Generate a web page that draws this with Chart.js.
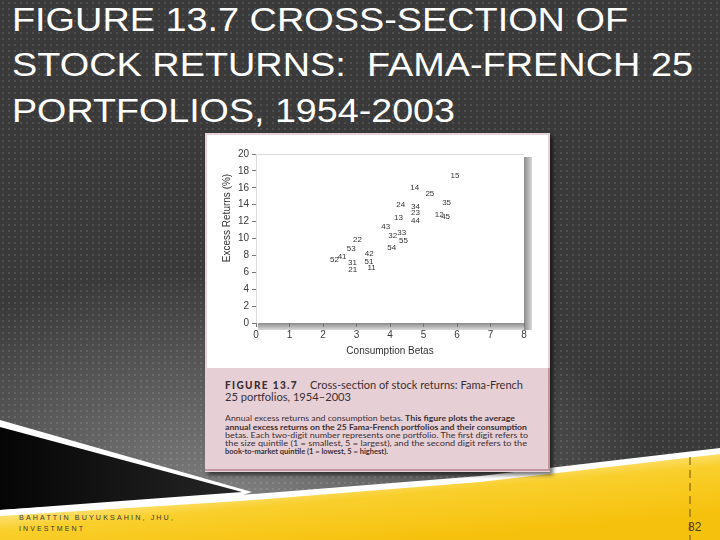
<!DOCTYPE html>
<html>
<head>
<meta charset="utf-8">
<script src="https://cdn.jsdelivr.net/npm/chart.js@4"></script>
<style>
body { margin: 0; background: #3a3a3a; }
#slide { position: relative; width: 720px; height: 540px; overflow: hidden; background: #3a3a3a; font-family: "Liberation Sans", Arial, sans-serif; }
#glow { position: absolute; left: 0; top: 0; width: 720px; height: 540px;
  background: radial-gradient(ellipse 430px 230px at 230px 500px, #808080, rgba(58,58,58,0)); }
#dots { position: absolute; left: 0; top: 0; width: 720px; height: 540px;
  background-image: radial-gradient(circle, rgba(255,255,255,0.11) 0.8px, transparent 1.3px);
  background-size: 6px 6px; }
.line { position: absolute; white-space: nowrap; transform-origin: 0 50%; }
.title { color: #fff; font-size: 34px; line-height: 34px; left: 12px; }
#box { position: absolute; left: 205px; top: 133px; width: 341px; height: 335px;
  background: #fff; border: 2px solid #e6d3d8; box-shadow: 3px 3px 4px rgba(0,0,0,0.55); }
#cap { position: absolute; left: 205px; top: 368px; width: 343px; height: 101px;
  background: #e7cfd6; border-right: 2px solid #c495a2; border-bottom: 2px solid #c495a2; }
.cap { color: #3b2f33; font-family: Lato, "Open Sans", sans-serif; }
.p { font-size: 8px; line-height: 8px; }
#chartWrap { position: absolute; left: 207px; top: 135px; width: 340px; height: 233px; }
.foot { color: #3a3a3a; font-size: 8px; line-height: 8px; letter-spacing: 2.4px; left: 19px; }
</style>
</head>
<body>
<div id="slide">
  <div id="glow"></div>
  <div id="dots"></div>
  <svg width="720" height="540" style="position:absolute;left:0;top:0">
    <defs>
      <linearGradient id="yel" gradientUnits="userSpaceOnUse" x1="360" y1="478" x2="366" y2="545">
        <stop offset="0" stop-color="#fde78a"/>
        <stop offset="0.3" stop-color="#f9cf2c"/>
        <stop offset="1" stop-color="#f6c10d"/>
      </linearGradient>
      <linearGradient id="blk" x1="0" y1="0" x2="1" y2="0">
        <stop offset="0" stop-color="#050505"/>
        <stop offset="1" stop-color="#262626"/>
      </linearGradient>
    </defs>
    <polygon points="0,420 252,492 240,496 0,512" fill="#fff"/>
    <polygon points="0,427 242,492 0,510" fill="url(#blk)"/>
    <polygon points="0,510 240,495 480,476 720,448 720,540 0,540" fill="#fff"/>
    <polygon points="0,516 240,501 480,482 720,454 720,540 0,540" fill="url(#yel)"/>
    <line x1="690" y1="457" x2="690" y2="540" stroke="#6b5514" stroke-width="1" stroke-dasharray="8,5"/>
  </svg>

  <div class="line title fit" data-w="616" style="top:2px">FIGURE 13.7 CROSS-SECTION OF</div>
  <div class="line title fit" data-w="681" style="top:47px">STOCK RETURNS:&nbsp; FAMA-FRENCH 25</div>
  <div class="line title fit" data-w="443" style="top:93px">PORTFOLIOS, 1954-2003</div>

  <div id="box"></div>
  <div id="cap"></div>
  <div id="chartWrap"><canvas id="chart" width="340" height="233"></canvas></div>

  <div class="line cap fit" data-w="73" style="left:225px;top:378px;font-size:12px;line-height:14px;font-weight:900;letter-spacing:1.6px">FIGURE 13.7</div>
  <div class="line cap fit" data-w="213" style="left:310px;top:378px;font-size:11px;line-height:14px">Cross-section of stock returns: Fama-French</div>
  <div class="line cap fit" data-w="126" style="left:225px;top:390px;font-size:11px;line-height:14px">25 portfolios, 1954–2003</div>

  <div class="line cap p fit" data-w="290" style="left:225px;top:414px">Annual excess returns and consumption betas. <b>This figure plots the average</b></div>
  <div class="line cap p fit" data-w="302" style="left:225px;top:423px"><b>annual excess returns on the 25 Fama-French portfolios and their consumption</b></div>
  <div class="line cap p fit" data-w="303" style="left:225px;top:431px">betas. Each two-digit number represents one portfolio. The first digit refers to</div>
  <div class="line cap p fit" data-w="302" style="left:225px;top:439px">the size quintile (1 = smallest, 5 = largest), and the second digit refers to the</div>
  <div class="line cap p fit" data-w="163" style="left:225px;top:447px"><b>book-to-market quintile (1 = lowest, 5 = highest).</b></div>

  <div class="line foot fit" data-w="156" style="top:514px">BAHATTIN BUYUKSAHIN, JHU,</div>
  <div class="line foot fit" data-w="66" style="top:525px">INVESTMENT</div>
  <div class="line" style="left:688px;top:520px;font-size:12px;line-height:14px;color:#4d3f10;font-family:'Liberation Sans Narrow','Liberation Sans',sans-serif">82</div>
</div>

<script>
// portfolio labels (size quintile, book-to-market quintile)
const portfolios = ['15', '14', '25', '35', '24', '34', '23', '44', '13', '12', '45', '43', '32',
                    '33', '55', '22', '54', '53', '42', '52', '41', '31', '51', '21', '11'];
// consumption betas
const betas = [5.94, 4.74, 5.19, 5.69, 4.32, 4.76, 4.76, 4.76, 4.25, 5.47, 5.66, 3.87, 4.08,
               4.35, 4.40, 3.03, 4.05, 2.84, 3.38, 2.34, 2.57, 2.88, 3.37, 2.89, 3.45];
// average annual excess returns (%)
const excessReturns = [17.47, 15.99, 15.26, 14.19, 13.98, 13.79, 13.0, 12.09, 12.45, 12.8, 12.57, 11.38, 10.32,
                       10.63, 9.68, 9.84, 8.85, 8.74, 8.14, 7.43, 7.87, 7.15, 7.27, 6.28, 6.48];
const xTicks = [0, 1, 2, 3, 4, 5, 6, 7, 8];
const yTicks = [0, 2, 4, 6, 8, 10, 12, 14, 16, 18, 20];

// fit text lines to the widths measured on the slide
document.querySelectorAll('.fit').forEach(el => {
    const w = el.getBoundingClientRect().width;
    el.style.transform = 'scaleX(' + (el.dataset.w / w) + ')';
});

const points = betas.map((b, i) => ({ x: b, y: excessReturns[i] }));

const framePlugin = {
    id: 'frame',
    beforeDraw(chart) {
        const ctx = chart.ctx, a = chart.chartArea;
        ctx.save();
        let g = ctx.createLinearGradient(a.right, 0, a.right + 8, 0);
        g.addColorStop(0, '#8a8a8a');
        g.addColorStop(1, '#dadada');
        ctx.fillStyle = g;
        ctx.fillRect(a.right, a.top + 3, 8, a.bottom - a.top + 4);
        g = ctx.createLinearGradient(0, a.bottom, 0, a.bottom + 7);
        g.addColorStop(0, '#8a8a8a');
        g.addColorStop(1, '#dadada');
        ctx.fillStyle = g;
        ctx.fillRect(a.left + 2, a.bottom, a.right - a.left - 2, 7);
        ctx.strokeStyle = '#dcdcdc';
        ctx.lineWidth = 1;
        ctx.beginPath();
        ctx.moveTo(a.left + 0.5, a.bottom);
        ctx.lineTo(a.left + 0.5, a.top + 0.5);
        ctx.lineTo(a.right, a.top + 0.5);
        ctx.stroke();
        ctx.restore();
    },
    afterDatasetsDraw(chart) {
        const ctx = chart.ctx;
        const meta = chart.getDatasetMeta(0);
        ctx.save();
        ctx.font = '8px "Liberation Sans", Arial, sans-serif';
        ctx.fillStyle = '#333';
        ctx.textAlign = 'center';
        ctx.textBaseline = 'middle';
        meta.data.forEach((pt, i) => {
            ctx.fillText(portfolios[i], pt.x, pt.y);
        });
        ctx.restore();
    },
    afterDraw(chart) {
        const ctx = chart.ctx, a = chart.chartArea;
        ctx.save();
        ctx.translate(a.left - 29, a.top + 64);
        ctx.rotate(-Math.PI / 2);
        ctx.font = '10px "Liberation Sans", Arial, sans-serif';
        ctx.fillStyle = '#333';
        ctx.textAlign = 'center';
        ctx.textBaseline = 'middle';
        ctx.fillText('Excess Returns (%)', 0, 0);
        ctx.restore();
    }
};

new Chart(document.getElementById('chart'), {
    type: 'scatter',
    data: {
        datasets: [{
            label: 'Fama-French 25',
            data: points,
            pointRadius: 0,
            pointHoverRadius: 0
        }]
    },
    options: {
        responsive: false,
        animation: false,
        layout: { padding: { top: 19, right: 23, left: 0, bottom: 0 } },
        plugins: { legend: { display: false }, tooltip: { enabled: false } },
        scales: {
            x: {
                type: 'linear',
                min: 0,
                max: 8,
                afterBuildTicks: s => { s.ticks = xTicks.map(v => ({ value: v })); },
                afterFit: s => { s.height = 45; },
                grid: { drawOnChartArea: false, tickLength: 4, color: '#777' },
                border: { display: false },
                ticks: { padding: 2, color: '#3c3c3c', font: { size: 10, family: '"Liberation Sans", Arial, sans-serif' } },
                title: {
                    display: true,
                    text: 'Consumption Betas',
                    color: '#333',
                    padding: { top: 4, bottom: 11 },
                    font: { size: 10, family: '"Liberation Sans", Arial, sans-serif' }
                }
            },
            y: {
                type: 'linear',
                min: 0,
                max: 20,
                afterBuildTicks: s => { s.ticks = yTicks.map(v => ({ value: v })); },
                afterFit: s => { s.width = 49; },
                grid: { drawOnChartArea: false, tickLength: 4, color: '#777' },
                border: { display: false },
                ticks: { padding: 3, color: '#3c3c3c', font: { size: 10, family: '"Liberation Sans", Arial, sans-serif' } }
            }
        }
    },
    plugins: [framePlugin]
});
</script>
</body>
</html>
